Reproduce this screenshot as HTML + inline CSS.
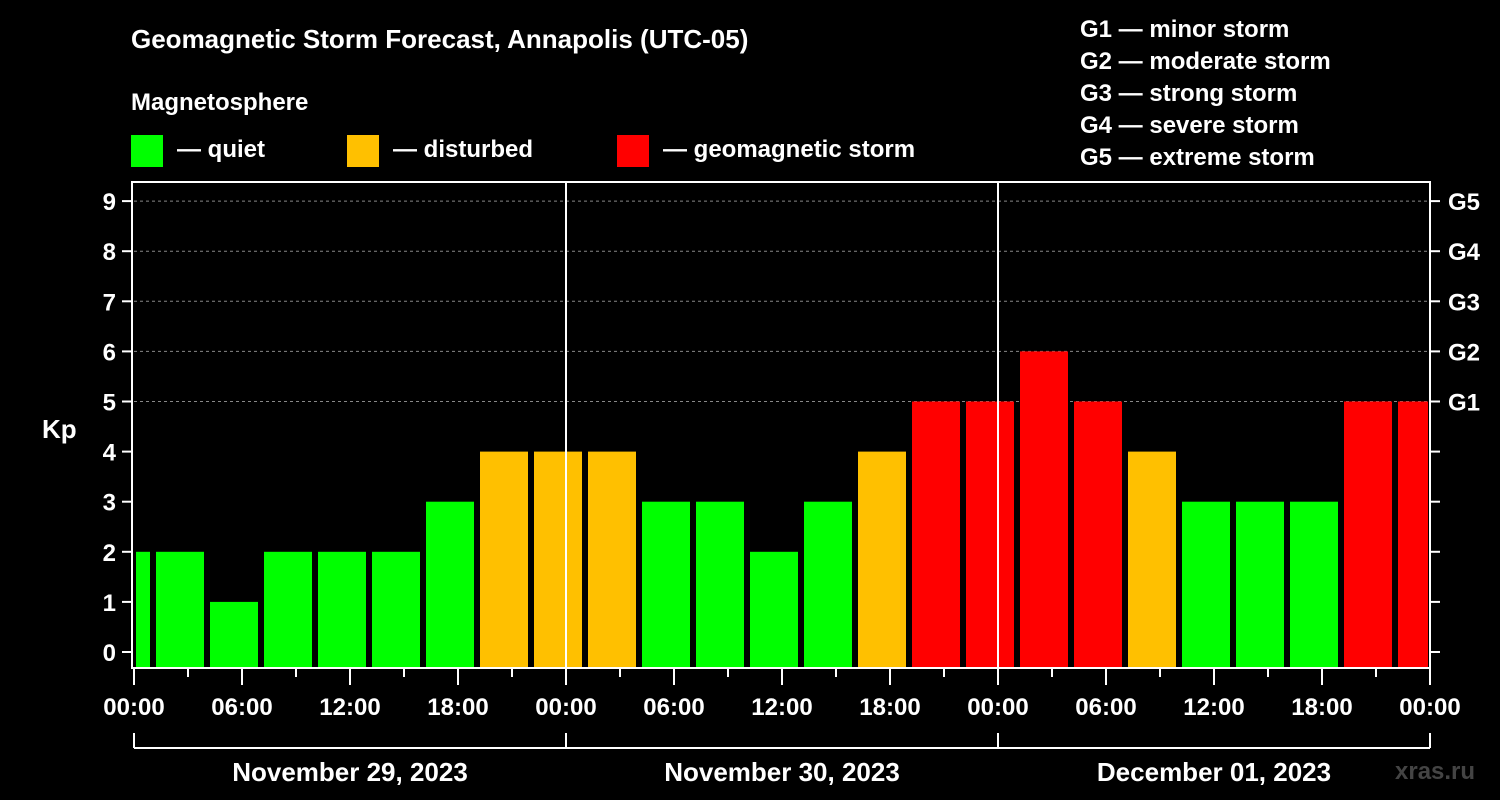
<!DOCTYPE html>
<html><head><meta charset="utf-8"><style>
body{margin:0;background:#000;}
svg{display:block;font-family:"Liberation Sans",sans-serif;font-weight:bold;}
</style></head><body>
<svg width="1500" height="800" viewBox="0 0 1500 800">
<rect width="1500" height="800" fill="#000"/>
<text x="131" y="48" fill="#fff" font-size="26">Geomagnetic Storm Forecast, Annapolis (UTC-05)</text>
<text x="131" y="110" fill="#fff" font-size="24">Magnetosphere</text>
<g>
<rect x="131" y="135" width="32" height="32" fill="#00ff00"/>
<text x="177" y="157" fill="#fff" font-size="24">— quiet</text>
<rect x="347" y="135" width="32" height="32" fill="#ffc000"/>
<text x="393" y="157" fill="#fff" font-size="24">— disturbed</text>
<rect x="617" y="135" width="32" height="32" fill="#ff0000"/>
<text x="663" y="157" fill="#fff" font-size="24">— geomagnetic storm</text>
</g>
<g fill="#fff" font-size="24">
<text x="1080" y="37">G1 — minor storm</text>
<text x="1080" y="69">G2 — moderate storm</text>
<text x="1080" y="101">G3 — strong storm</text>
<text x="1080" y="133">G4 — severe storm</text>
<text x="1080" y="165">G5 — extreme storm</text>
</g>
<text x="42" y="438" fill="#fff" font-size="26">Kp</text>
<text x="1395" y="779" fill="#444" font-size="24">xras.ru</text>
<g id="plot"></g>
</svg>
<script>
const kpValues=[2,2,1,2,2,2,3,4,4,4,3,3,2,3,4,5,5,6,5,4,3,3,3,5,5];
const startHour=-2; // first bar starts at 22:00 previous day (local)
const yTicks=[0,1,2,3,4,5,6,7,8,9];
const gLabels=["G1","G2","G3","G4","G5"];
const xTickLabels=["00:00","06:00","12:00","18:00","00:00","06:00","12:00","18:00","00:00","06:00","12:00","18:00","00:00"];
const dayLabels=["November 29, 2023","November 30, 2023","December 01, 2023"];

const NS="http://www.w3.org/2000/svg";
const L=134,R=1430,T=182,B=668;
const hoursTotal=72;
const xs=h=>L+(R-L)*h/hoursTotal;
const ys=k=>652-k*50.1;
const g=document.getElementById('plot');
function mk(tag,attrs){const e=document.createElementNS(NS,tag);for(const k in attrs)e.setAttribute(k,attrs[k]);g.appendChild(e);return e;}
// grid
for(let k=5;k<=9;k++){const e=mk('line',{x1:L,x2:R,y1:ys(k),y2:ys(k),stroke:'#888','stroke-dasharray':'3,3','stroke-width':1});

}
// bars
kpValues.forEach((v,i)=>{
 let h0=Math.max(startHour+3*i,0),h1=Math.min(startHour+3*i+3,hoursTotal);
 const x0=xs(h0)+(h0===0?2:4),x1=xs(h1)-2;
 const c=v>=5?'#ff0000':(v>=4?'#ffc000':'#00ff00');
 const e=mk('rect',{x:x0,y:ys(v),width:x1-x0,height:B-ys(v),fill:c});
 
 
});
// day separators
for(let d=1;d<3;d++){const e=mk('line',{x1:xs(24*d),x2:xs(24*d),y1:T,y2:B,stroke:'#fff','stroke-width':2});

}
// frame
const f=mk('rect',{x:L-2,y:T,width:R-L+2,height:B-T,fill:'none',stroke:'#fff','stroke-width':2});


// y ticks
yTicks.forEach(k=>{
 mk('line',{x1:L-12,x2:L-2,y1:ys(k),y2:ys(k),stroke:'#fff','stroke-width':2});
 mk('line',{x1:R,x2:R+10,y1:ys(k),y2:ys(k),stroke:'#fff','stroke-width':2});
 const t=mk('text',{x:L-18,y:ys(k)+9,fill:'#fff','font-size':24,'text-anchor':'end'});t.textContent=k;
 
 
});
gLabels.forEach((s,i)=>{const t=mk('text',{x:R+18,y:ys(5+i)+9,fill:'#fff','font-size':24});t.textContent=s;
 
 });
// x ticks
for(let h=0;h<=hoursTotal;h+=3){const major=h%6===0;
 mk('line',{x1:xs(h),x2:xs(h),y1:B,y2:B+(major?17:9),stroke:'#fff','stroke-width':2});}
xTickLabels.forEach((s,i)=>{const t=mk('text',{x:xs(6*i),y:715,fill:'#fff','font-size':24,'text-anchor':'middle'});t.textContent=s;
 
 });
// day bracket
mk('line',{x1:L,x2:R,y1:748,y2:748,stroke:'#fff','stroke-width':2});
for(let d=0;d<=3;d++)mk('line',{x1:xs(24*d),x2:xs(24*d),y1:733,y2:748,stroke:'#fff','stroke-width':2});
dayLabels.forEach((s,i)=>{const t=mk('text',{x:xs(24*i+12),y:781,fill:'#fff','font-size':26,'text-anchor':'middle'});t.textContent=s;
 
 });
</script>
</body></html>
